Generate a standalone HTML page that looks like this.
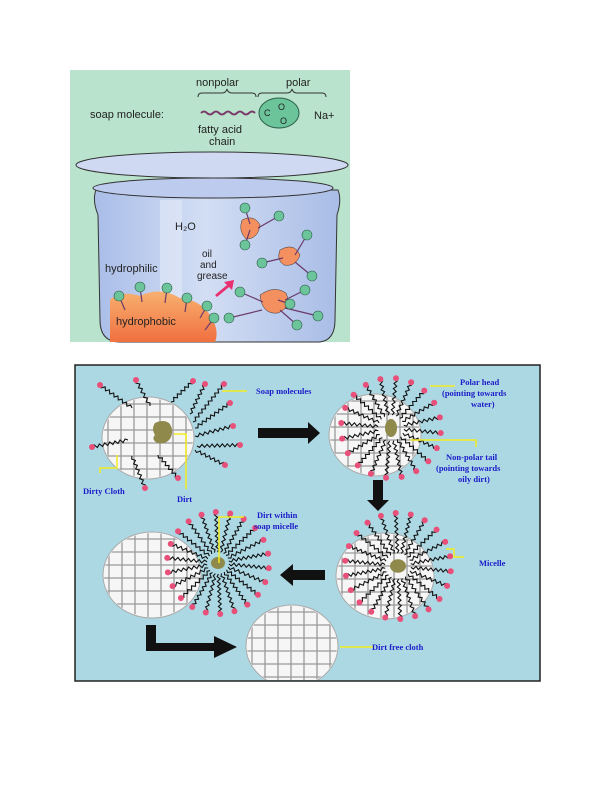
<!DOCTYPE html>
<html><head><meta charset="utf-8"><style>
html,body{margin:0;padding:0;background:#fff;}
svg{display:block;}
.t{font-family:"Liberation Sans",sans-serif;fill:#222;}
.b{font-family:"Liberation Serif",serif;font-weight:bold;fill:#1c1cc8;font-size:8.5px;}
</style></head><body>
<svg id="s" width="612" height="792" viewBox="0 0 612 792" xmlns="http://www.w3.org/2000/svg">
<defs>
<clipPath id="pc"><rect x="76" y="365" width="464" height="315"/></clipPath>
<linearGradient id="pot" x1="0" x2="1"><stop offset="0" stop-color="#a9bde8"/><stop offset="0.45" stop-color="#d3def4"/><stop offset="1" stop-color="#a8bce6"/></linearGradient>
<linearGradient id="oil" x1="0" y1="0" x2="0" y2="1"><stop offset="0" stop-color="#f8b070"/><stop offset="1" stop-color="#f07040"/></linearGradient>
</defs>
<rect x="70" y="70" width="280" height="272" fill="#b9e3cd"/>
<text class="t" x="196" y="86" font-size="11">nonpolar</text>
<text class="t" x="286" y="86" font-size="11">polar</text>
<path d="M198 97 q0 -4 4 -4 h20 q4 0 5 -4 q1 4 5 4 h20 q4 0 4 4" fill="none" stroke="#333"/>
<path d="M258 97 q0 -4 4 -4 h25 q4 0 5 -4 q1 4 5 4 h25 q4 0 4 4" fill="none" stroke="#333"/>
<text class="t" x="90" y="118" font-size="11">soap molecule:</text>
<path d="M201 113 q3 -3 6 0 t6 0 t6 0 t6 0 t6 0 t6 0 t6 0 t6 0 t6 0" fill="none" stroke="#7a3a6a" stroke-width="2"/>
<ellipse cx="279" cy="113" rx="20" ry="15" fill="#6cc49a" stroke="#2b5d48"/>
<text class="t" x="264" y="116" font-size="9">C</text><text class="t" x="278" y="110" font-size="9">O</text><text class="t" x="280" y="124" font-size="9">O</text>
<text class="t" x="314" y="119" font-size="11">Na+</text>
<text class="t" x="198" y="133" font-size="11">fatty acid</text>
<text class="t" x="209" y="145" font-size="11">chain</text>
<path d="M96 190 Q92 200 98 215 L100 320 Q100 342 120 342 L320 342 Q335 340 335 320 L337 215 Q342 200 338 190 Z" fill="url(#pot)" stroke="#333"/>
<ellipse cx="212" cy="165" rx="136" ry="13" fill="#cfdaf2" stroke="#333"/>
<ellipse cx="213" cy="188" rx="120" ry="10" fill="#bccbee" stroke="#333"/>
<rect x="160" y="200" width="22" height="140" fill="#e4ebf8" opacity="0.6"/>
<text class="t" x="175" y="230" font-size="11">H₂O</text>
<text class="t" x="202" y="257" font-size="10">oil</text>
<text class="t" x="200" y="268" font-size="10">and</text>
<text class="t" x="197" y="279" font-size="10">grease</text>
<text class="t" x="105" y="272" font-size="11">hydrophilic</text>
<path d="M110 342 L110 300 Q120 290 140 296 Q160 286 180 298 Q200 300 210 315 Q220 330 215 342 Z" fill="url(#oil)"/>
<text class="t" x="116" y="325" font-size="11">hydrophobic</text>
<path d="M215 295 l12 -10 l-3 -3 l10 -2 l-2 10 l-3 -3 l-12 10 z" fill="#e83070"/>
<path d="M242 220 q12 -6 18 5 q-2 14 -14 14 q-8 -8 -4 -19z" fill="#f49060" stroke="#333" stroke-width="0.5"/>
<path d="M280 250 q14 -8 20 5 q-4 12 -16 10 q-8 -5 -4 -15z" fill="#f49060" stroke="#333" stroke-width="0.5"/>
<path d="M260 295 q14 -10 26 -2 q6 14 -8 20 q-16 2 -18 -18z" fill="#f49060" stroke="#333" stroke-width="0.5"/>
<g id="toptails" fill="none" stroke="#6a3a6a" stroke-width="1.2"></g>
<g id="topdots" fill="#6cc49a" stroke="#2b5d48" stroke-width="0.6"></g>
<rect x="75" y="365" width="465" height="316" fill="#acd8e4" stroke="#222" stroke-width="1.5"/>
<g clip-path="url(#pc)" id="pg"></g>
<path d="M258 428 h50 v-6 l12 11 l-12 11 v-6 h-50z" fill="#111"/>
<path d="M373 480 h10 v20 h6 l-11 11 l-11 -11 h6z" fill="#111"/>
<path d="M325 570 h-32 v-6 l-13 11 l13 11 v-6 h32z" fill="#111"/>
<path d="M146 625 h10 v18 h58 v-7 l23 11 l-23 11 v-7 h-68z" fill="#111"/>
<g fill="none" stroke="#f2ec20" stroke-width="1.5">
<path d="M222 391 h25"/><path d="M117 455 v13 h-17 v5"/><path d="M174 434 h12 v55"/>
<path d="M430 386 h25"/><path d="M410 440 h66 v7"/><path d="M446 549 h8 v8 h10"/>
<path d="M219 563 v-46 h25"/><path d="M340 647 h34"/>
</g>
<text class="b" x="256" y="394">Soap molecules</text>
<text class="b" x="460" y="385">Polar head</text>
<text class="b" x="442" y="396">(pointing towards</text>
<text class="b" x="471" y="407">water)</text>
<text class="b" x="446" y="460">Non-polar tail</text>
<text class="b" x="436" y="471">(pointing towards</text>
<text class="b" x="458" y="482">oily dirt)</text>
<text class="b" x="83" y="494">Dirty Cloth</text>
<text class="b" x="177" y="502">Dirt</text>
<text class="b" x="257" y="518">Dirt within</text>
<text class="b" x="254" y="529">soap micelle</text>
<text class="b" x="479" y="566">Micelle</text>
<text class="b" x="372" y="650">Dirt free cloth</text>
</svg>
<script>
var NS="http://www.w3.org/2000/svg",pg=document.getElementById("pg");
function el(n,a,p){var e=document.createElementNS(NS,n);for(var k in a)e.setAttribute(k,a[k]);(p||pg).appendChild(e);return e;}
function cloth(cx,cy,rx,ry){
 var id="c"+cx;var cp=el("clipPath",{id:id},document.querySelector("defs"));el("ellipse",{cx:cx,cy:cy,rx:rx,ry:ry},cp);
 el("ellipse",{cx:cx,cy:cy,rx:rx+1,ry:ry+1,fill:"#f6f6f6",stroke:"#aaa","stroke-width":1});
 var g=el("g",{"clip-path":"url(#"+id+")",stroke:"#999","stroke-width":1.3});
 for(var x=cx-rx+5;x<cx+rx;x+=13)el("line",{x1:x,y1:cy-ry,x2:x,y2:cy+ry},g);
 for(var y=cy-ry+6;y<cy+ry;y+=13)el("line",{x1:cx-rx,y1:y,x2:cx+rx,y2:y},g);
}
function spoke(x1,y1,x2,y2){
 var dx=x2-x1,dy=y2-y1,L=Math.hypot(dx,dy),ux=dx/L,uy=dy/L,d="M"+x1+" "+y1;
 var n=Math.floor(L/2.5);
 for(var i=1;i<=n;i++){var t=i*L/n,s=(i%2?1.5:-1.5);d+=" L"+(x1+ux*t-uy*s).toFixed(1)+" "+(y1+uy*t+ux*s).toFixed(1);}
 el("path",{d:d,fill:"none",stroke:"#111","stroke-width":1.1});
 el("circle",{cx:x2,cy:y2,r:3,fill:"#e8507a"});
}
function micelle(cx,cy,n,r0,r1,dr){
 for(var i=0;i<n;i++){var a=i/n*6.283+0.1;spoke(cx+Math.cos(a)*r0,cy+Math.sin(a)*r0,cx+Math.cos(a)*r1,cy+Math.sin(a)*r1);}
 if(dr)el("ellipse",{cx:cx,cy:cy,rx:dr,ry:dr*0.85,fill:"#8f8a4c"});
}
cloth(148,438,45,40);
el("path",{d:"M155 423 q8 -4 14 0 q5 6 2 14 q-4 8 -14 6 q-6 -4 -2 -8 q-4 -6 0 -12z",fill:"#8f8a4c"});
[[132,408,100,385],[150,406,136,380],[171,402,193,381],[190,414,205,384],[193,422,224,384],[195,428,230,403],[195,436,233,426],[197,446,240,445],[195,450,225,465],[128,440,92,447],[158,455,178,478],[132,456,145,488]].forEach(function(s){spoke(s[0],s[1],s[2],s[3]);});
cloth(375,435,45,40);micelle(391,428,20,13,50,0);
el("ellipse",{cx:391,cy:428,rx:6,ry:9,fill:"#8f8a4c"},pg);
cloth(385,576,48,42);micelle(398,566,22,13,53,8);
cloth(152,575,48,42);micelle(218,563,22,11,51,7);
cloth(292,646,45,40);
var td=document.getElementById("topdots"),tt=document.getElementById("toptails");
[[119,296,125,310],[140,287,142,302],[167,288,165,303],[187,298,185,312],[207,306,200,318],[214,318,205,330],[245,208,250,224],[279,216,258,228],[245,245,250,230],[307,235,295,255],[262,263,283,258],[312,276,295,262],[305,290,285,300],[240,292,263,302],[290,304,278,300],[318,316,285,308],[297,325,280,310],[229,318,262,310]].forEach(function(p){el("path",{d:"M"+p[0]+" "+p[1]+" L"+p[2]+" "+p[3]},tt);el("circle",{cx:p[0],cy:p[1],r:5},td);});
</script>
</body></html>
